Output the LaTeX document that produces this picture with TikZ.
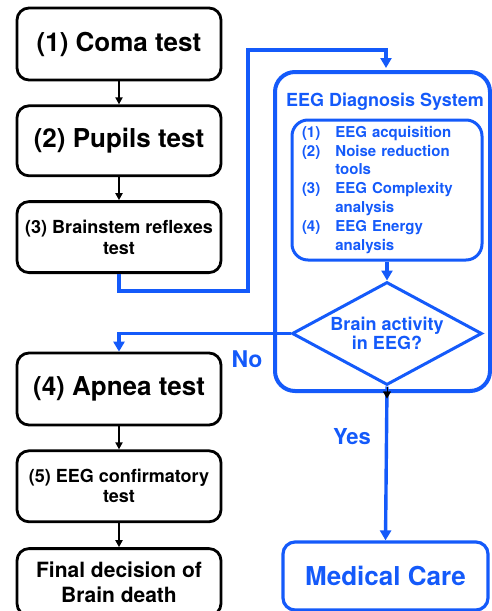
\documentclass[tikz,border=0pt]{standalone}
\usepackage{fontspec}
\setmainfont{TeX Gyre Heros}
\usepackage{xcolor}
\usepackage{tikz}
\usetikzlibrary{shapes,arrows.meta,positioning,calc}
\definecolor{eegblue}{RGB}{20,90,250}

\begin{document}
\begin{tikzpicture}[x=1pt, y=1pt, node distance=23pt,
    block/.style={rectangle, draw, line width=2.8pt, minimum width=204pt, text centered, rounded corners=12pt, align=center},
    block_eeg/.style={rectangle, draw=eegblue, text=eegblue, line width=3.2pt, rounded corners=12pt, align=center},
    line/.style={draw, line width=1.8pt, -{Triangle[length=7pt,width=7pt]}},
    line_eeg/.style={draw=eegblue, line width=3.4pt, -{Triangle[length=10pt,width=11pt]}}]
    \useasboundingbox (0,0) rectangle (492,-611);

    % Left side: clinical tests
    \node [block, minimum height=72pt, font=\bfseries\fontsize{26}{30}\selectfont] (coma) at (119,-44) {(1) Coma test};
    \node [block, minimum height=70pt, below=of coma, font=\bfseries\fontsize{26}{30}\selectfont] (pupils) {(2) Pupils test};
    \node [block, minimum height=71pt, below=of pupils, font=\bfseries\fontsize{18}{21}\selectfont] (brainstem) {(3) Brainstem reflexes\\test};
    \node [block, minimum height=72pt, font=\bfseries\fontsize{26}{30}\selectfont] (apnea) at (119,-389) {(4) Apnea test};
    \node [block, minimum height=71pt, below=of apnea, font=\bfseries\fontsize{18}{20}\selectfont] (eegtest) {(5) EEG confirmatory\\test};
    \node [block, minimum height=67pt, below=24pt of eegtest, font=\bfseries\fontsize{21}{25}\selectfont] (final) {Final decision of\\Brain death};

    % Right side: EEG diagnosis
    \node [block_eeg, line width=4pt, rounded corners=20pt, minimum width=215pt, minimum height=319pt] (sys) at (382.5,-231.5) {};
    \node [text=eegblue, font=\bfseries\fontsize{18}{21}\selectfont] (sys_title) at (385,-102) {EEG Diagnosis System};
    \node [block_eeg, line width=3pt, rounded corners=16pt, text width=170pt, inner xsep=10pt, minimum height=140pt, align=left, font=\bfseries\fontsize{15}{18.8}\selectfont] (steps) at (387,-190) {%
        \begin{tabular}{@{}l@{\hspace{15pt}}l@{}}
        (1) & EEG acquisition\\
        (2) & Noise reduction\\
            & tools\\
        (3) & EEG Complexity\\
            & analysis\\
        (4) & EEG Energy\\
            & analysis
        \end{tabular}};
    \node [diamond, aspect=1.85, draw=eegblue, text=eegblue, line width=3pt, inner sep=0pt, minimum width=190pt, minimum height=103pt, align=center, font=\bfseries\fontsize{18}{18.5}\selectfont] (check) at (387,-333.5) {Brain activity\\in EEG?};
    \node [block_eeg, minimum width=205pt, minimum height=68pt, font=\bfseries\fontsize{26}{30}\selectfont] (care) at (385.5,-576) {Medical Care};

    % Labels
    \node [text=eegblue, font=\bfseries\fontsize{23}{27}\selectfont] (no_label) at (247,-359) {No};
    \node [text=eegblue, font=\bfseries\fontsize{22}{26}\selectfont] (yes_label) at (352,-437) {Yes};

    % Connectors
    \draw [line] (coma) -- (pupils);
    \draw [line] (pupils) -- (brainstem);
    \draw [line] (apnea) -- (eegtest);
    \draw [line] (eegtest) -- (final);

    \coordinate (detour_lo) at (248,-291);
    \coordinate (detour_hi) at (248,-50);
    \draw [line_eeg, shorten >=2pt] (brainstem.south) |- (detour_lo) -- (detour_hi) -| ([xshift=3.5pt]sys.north);
    \draw [line_eeg] (steps) -- (check);
    \draw [line_eeg] (check.west) -| (apnea.north);
    \draw [line_eeg] (check.south) -- (care.north);
    \coordinate (check_tip) at ([yshift=-12pt]check.south);
    \draw [line, line width=0.4pt, -{Triangle[length=7pt,width=8pt]}] (check.south) -- (check_tip);
\end{tikzpicture}
\end{document}
